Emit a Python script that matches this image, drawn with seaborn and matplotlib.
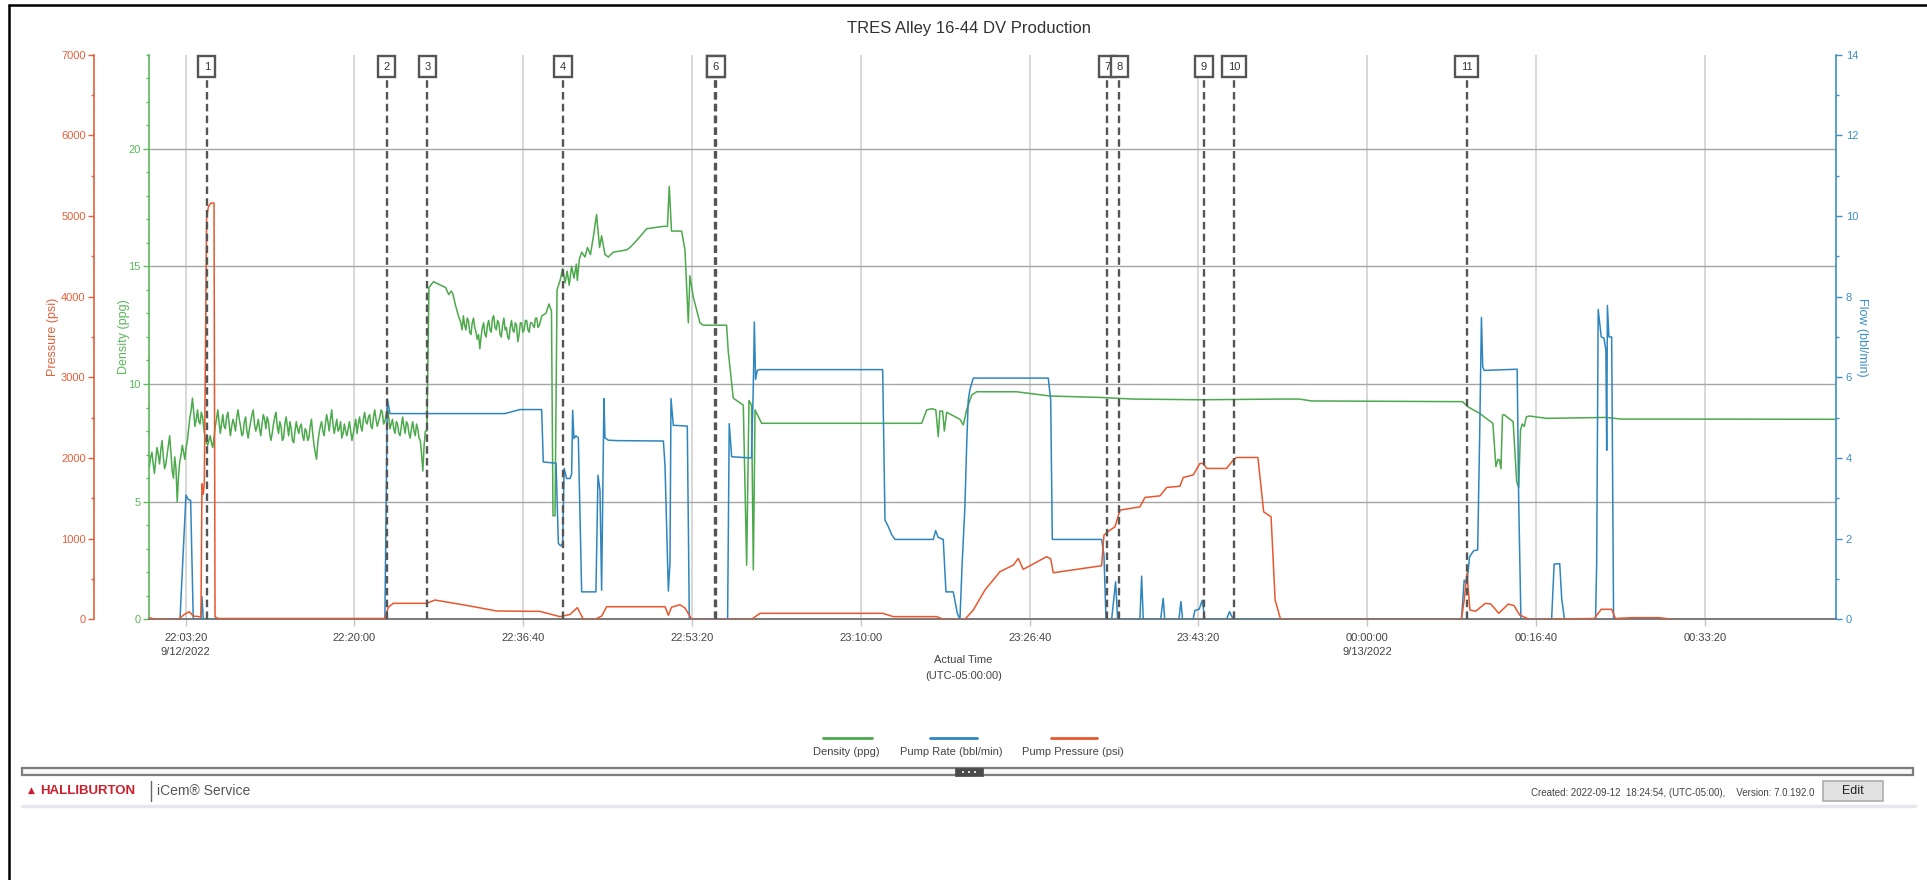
import numpy as np
import pandas as pd
import matplotlib
matplotlib.use("Agg")
import matplotlib.pyplot as plt
import matplotlib.dates as mdates
from matplotlib.lines import Line2D
from matplotlib.patches import Rectangle
from matplotlib.ticker import MultipleLocator
from matplotlib.transforms import blended_transform_factory
from matplotlib import font_manager
import seaborn as sns

sns.set_theme(style="white")
_installed = {f.name for f in font_manager.fontManager.ttflist}
BASE_FONT = "Liberation Sans Narrow" if "Liberation Sans Narrow" in _installed else "Liberation Sans"
plt.rcParams["font.family"] = [BASE_FONT, "DejaVu Sans"]

# ---------------------------------------------------------------- data
JOB_START = pd.Timestamp("2022-09-12 22:00:00")   # all times below in minutes after this
SAMPLE_STEP = 0.125                                # minutes between densitometer samples

# Density (ppg): logged stretch starting at -0.25 min
dens_a_start = -0.25
dens_a = [6.5, 6.9, 7.1, 6.6, 6.2, 6.8, 7.3, 7.0, 6.6, 7.2,
          7.6, 6.9, 6.4, 6.6, 7.0, 7.4, 7.8, 7.1, 6.3, 6.0,
          6.9, 6.4, 5.0, 6.1, 6.7, 7.0, 7.4, 7.1, 6.8, 7.3,
          7.6, 8.1, 8.6, 8.9, 9.4, 8.8, 8.2, 8.5, 8.9, 8.4,
          8.3, 8.8, 8.6, 8.1, 7.7, 7.5, 7.4, 7.6, 7.8, 7.5,
          7.3, 7.7, 8.2, 8.5, 8.9, 8.4, 7.9, 8.3, 8.7, 8.2,
          8.1, 8.6, 8.8, 8.3, 7.8, 8.2, 8.5, 8.3, 8.0, 8.6,
          8.9, 8.5, 8.2, 7.8, 7.9, 8.4, 8.6, 8.0, 7.7, 8.1,
          8.4, 8.7, 8.9, 8.3, 8.0, 8.2, 8.5, 8.1, 7.8, 8.3,
          8.7, 8.5, 8.1, 8.6, 8.4, 7.9, 7.6, 7.9, 8.3, 8.6,
          8.8, 8.2, 7.9, 8.4, 8.2, 7.6, 7.7, 8.3, 8.6, 8.2,
          7.8, 8.4, 8.1, 7.6, 7.5, 8.0, 8.4, 8.1, 7.9, 8.2,
          8.3, 7.8, 7.6, 8.1, 8.0, 7.6, 7.7, 8.2, 8.5, 7.9,
          7.4, 7.1, 6.8, 7.5, 7.9, 8.2, 8.4, 8.0, 7.8, 8.3,
          8.7, 8.4, 8.0, 8.5, 8.9, 8.3, 7.9, 8.2, 8.5, 8.0,
          8.1, 8.4, 7.7, 7.9, 8.3, 8.0, 7.8, 8.1, 8.4, 8.0,
          7.6, 7.9, 8.2, 8.5, 7.9, 8.3, 8.6, 8.2, 8.0, 8.5,
          8.8, 8.4, 8.3, 8.6, 8.7, 8.2, 8.1, 8.6, 8.9, 8.5,
          8.2, 8.4, 8.6, 8.9, 8.8, 8.3, 8.4, 8.7, 9.0, 8.6,
          8.1, 8.3, 8.5, 8.1, 7.9, 8.4, 8.3, 7.9, 7.8, 8.2,
          8.6, 8.2, 7.9, 8.4, 8.3, 7.9, 7.7, 8.1, 8.4, 8.0,
          7.8, 8.3, 8.1, 7.7, 7.6, 7.0, 6.3, 7.4, 8.0]
dens_mid = [(27.15, 8.0), (27.35, 14.1), (27.8, 14.35), (28.5, 14.2), (29.0, 14.1),
            (29.3, 13.8), (29.55, 13.95), (29.7, 13.85), (30.0, 13.3), (30.3, 12.85)]
dens_b_start = 30.5
dens_b = [12.6, 12.3, 12.9, 12.5, 12.3, 12.8, 12.7, 12.2, 12.1, 12.6,
          12.8, 12.4, 12.2, 11.9, 12.1, 11.5, 12.0, 12.4, 12.6, 12.1,
          12.0, 12.5, 12.7, 12.3, 12.2, 12.8, 12.9, 12.4, 12.3, 12.7,
          12.6, 12.1, 12.0, 12.5, 12.8, 12.3, 12.4, 12.0, 11.9, 12.4,
          12.7, 12.3, 12.2, 12.6, 12.5, 11.8, 12.1, 12.6, 12.6, 12.2,
          12.3, 12.7, 12.7, 12.3, 12.2, 12.6, 12.6, 12.5, 12.4, 12.8,
          12.8, 12.4, 12.5, 12.7, 12.9]
dens_tail = [(38.9, 13.0), (39.2, 13.4), (39.45, 13.1), (39.6, 4.4), (39.8, 4.4),
             (40.0, 14.0), (40.3, 14.4), (40.55, 14.9), (40.8, 14.3), (41.0, 14.8),
             (41.2, 14.2), (41.44, 15.0), (41.67, 14.5), (41.9, 15.1), (42.0, 14.4),
             (42.2, 15.3), (42.43, 15.6), (42.76, 15.4), (43.0, 15.8), (43.3, 15.5),
             (43.6, 16.3), (43.9, 17.2), (44.2, 15.8), (44.4, 16.3), (44.73, 15.5),
             (45.06, 15.4), (45.55, 15.6), (46.87, 15.7), (47.2, 15.8), (47.86, 16.1),
             (48.85, 16.6), (50.5, 16.7), (50.9, 16.7), (51.08, 18.4), (51.3, 16.5),
             (52.3, 16.5), (52.63, 15.7), (52.96, 12.6), (53.12, 14.6), (53.45, 13.7),
             (54.11, 12.6), (54.44, 12.5), (56.74, 12.5), (56.9, 11.4), (57.4, 9.4),
             (58.39, 9.1), (58.72, 2.3), (58.95, 9.3), (59.2, 9.1), (59.38, 2.1),
             (59.55, 8.9), (60.2, 8.33), (76.0, 8.33), (76.5, 8.9), (76.99, 8.95),
             (77.4, 8.9), (77.64, 7.76), (77.8, 8.85), (78.07, 8.85), (78.24, 8.0),
             (78.47, 8.8), (79.78, 8.5), (80.11, 8.26), (80.44, 8.9), (80.94, 9.53),
             (81.43, 9.67), (85.38, 9.67), (88.67, 9.49), (93.6, 9.43), (96.9, 9.36),
             (103.5, 9.33), (111.4, 9.36), (113.3, 9.36), (114.5, 9.28), (129.4, 9.25),
             (129.95, 9.03), (131.1, 8.75), (132.4, 8.33), (132.7, 6.49), (132.9, 6.8),
             (133.05, 6.77), (133.2, 6.4), (133.35, 8.68), (133.5, 8.7), (134.1, 8.5),
             (134.4, 8.4), (134.75, 5.85), (134.95, 5.6), (135.13, 8.04), (135.3, 8.3),
             (135.5, 8.2), (135.7, 8.6), (136.0, 8.64), (137.7, 8.54), (143.56, 8.58),
             (145.07, 8.51), (150.0, 8.51), (166.3, 8.5)]

# Pump rate (bbl/min)
flow_points = [(-0.3, 0), (2.77, 0), (3.36, 3.08), (3.59, 2.97), (3.82, 2.95), (4.08, 0),
               (4.84, 0), (4.94, 0.56), (5.07, 0), (23.0, 0), (23.24, 5.47), (23.5, 5.1),
               (34.86, 5.1), (36.34, 5.2), (38.48, 5.2), (38.64, 3.9), (39.9, 3.87),
               (40.13, 1.88), (40.36, 1.82), (40.55, 1.88), (40.7, 3.74), (40.95, 3.49),
               (41.28, 3.49), (41.44, 3.6), (41.54, 5.18), (41.67, 4.48), (41.86, 4.55),
               (42.1, 4.5), (42.43, 0.68), (43.84, 0.68), (44.04, 3.57), (44.24, 3.2),
               (44.4, 0.72), (44.63, 5.47), (44.73, 4.5), (45.06, 4.44), (45.88, 4.43),
               (50.5, 4.42), (50.66, 3.8), (50.99, 0.7), (51.15, 1.4), (51.25, 5.47),
               (51.48, 4.81), (52.86, 4.79), (53.06, 0), (56.84, 0), (57.0, 4.85),
               (57.24, 4.03), (59.2, 4.0), (59.38, 5.8), (59.48, 7.37), (59.6, 5.95),
               (59.77, 6.17), (60.0, 6.19), (72.15, 6.19), (72.38, 2.46), (72.7, 2.3),
               (73.04, 2.1), (73.37, 1.98), (77.15, 1.98), (77.38, 2.2), (77.64, 2.03),
               (78.13, 1.98), (78.4, 0.68), (79.12, 0.68), (79.52, 0.15), (79.78, 0),
               (80.0, 1.39), (80.27, 2.79), (80.44, 4.27), (80.6, 5.43), (80.77, 5.7),
               (81.1, 5.98), (88.5, 5.98), (88.74, 5.45), (88.9, 1.98), (93.77, 1.98),
               (94.0, 1.6), (94.2, 0), (94.76, 0), (95.15, 0.93), (95.35, 0), (97.55, 0),
               (97.72, 1.07), (97.88, 0), (99.6, 0), (99.85, 0.52), (100.0, 0), (101.4, 0),
               (101.6, 0.44), (101.76, 0), (102.8, 0), (102.98, 0.22), (103.4, 0.25),
               (103.7, 0.47), (103.97, 0), (106.1, 0), (106.4, 0.19), (106.76, 0),
               (129.3, 0), (129.57, 0.97), (129.84, 0.9), (130.1, 1.55), (130.5, 1.7),
               (130.9, 1.72), (131.1, 4.6), (131.2, 6.26), (131.27, 7.48), (131.4, 6.26),
               (131.54, 6.17), (134.8, 6.2), (134.95, 2.95), (135.17, 0), (138.2, 0),
               (138.45, 1.37), (139.0, 1.38), (139.2, 0.5), (139.47, 0), (142.54, 0),
               (142.65, 1.4), (142.8, 7.68), (143.1, 7.0), (143.37, 6.97), (143.56, 6.67),
               (143.64, 4.19), (143.71, 7.78), (143.86, 7.0), (144.13, 7.0), (144.32, 0),
               (150.5, 0)]

# Pump pressure (psi)
pres_points = [(-0.3, 20), (0.2, 5), (2.6, 0), (3.2, 60), (3.69, 94), (4.08, 40),
               (4.84, 30), (4.94, 1680), (5.07, 1550), (5.17, 1690), (5.4, 4985),
               (5.57, 5110), (5.8, 5159), (6.13, 5160), (6.23, 30), (6.55, 10),
               (23.0, 10), (23.34, 150), (23.83, 198), (27.13, 198), (27.95, 239),
               (31.4, 165), (34.04, 103), (38.3, 98), (40.29, 33), (41.28, 60),
               (42.0, 144), (42.6, 0), (43.75, 0), (44.4, 40), (44.9, 156), (50.66, 156),
               (50.99, 50), (51.3, 150), (52.14, 180), (52.63, 140), (53.3, 0), (59.2, 0),
               (60.04, 74), (72.15, 74), (73.2, 33), (77.48, 33), (78.13, 0), (80.27, 0),
               (81.1, 115), (82.25, 363), (83.73, 590), (85.05, 672), (85.54, 755),
               (86.03, 619), (88.34, 776), (88.74, 750), (89.0, 577), (93.77, 664),
               (94.0, 1044), (94.43, 1090), (95.09, 1147), (95.58, 1353), (97.55, 1394),
               (98.05, 1511), (99.53, 1530), (100.19, 1634), (101.5, 1650), (101.83, 1758),
               (102.82, 1790), (103.48, 1932), (103.8, 1932), (104.14, 1870), (106.1, 1870),
               (106.76, 1973), (107.1, 2006), (109.2, 2006), (109.77, 1332), (110.5, 1271),
               (110.9, 239), (111.44, 0), (129.3, 0), (129.57, 239), (129.84, 570),
               (130.14, 115), (130.7, 100), (131.66, 198), (132.2, 190), (132.98, 74),
               (133.92, 189), (134.48, 170), (135.05, 53), (136.0, 0), (142.42, 10),
               (143.1, 124), (144.13, 124), (144.5, 10), (146.2, 20), (148.85, 20),
               (150.0, 0), (150.5, 0)]

# Job events (minutes after 22:00:00)
event_t = [5.41, 23.18, 27.19, 40.59, 55.62, 55.69, 94.33, 95.51, 103.88, 106.84, 129.80]
event_lbl = ["1", "2", "3", "4", "5", "6", "7", "8", "9", "10", "11"]

X_MIN, X_MAX = -0.29, 166.28                     # visible window, minutes
TICK_FIRST_S, TICK_STEP_S, N_TICKS = 200, 1000, 10

TITLE = "TRES Alley 16-44 DV Production"
LEGEND = ["Density (ppg)", "Pump Rate (bbl/min)", "Pump Pressure (psi)"]

# ---------------------------------------------------------------- frames
def at(minutes):
    return JOB_START + pd.to_timedelta(np.asarray(minutes, dtype=float), unit="min")

dens_t = np.concatenate([
    dens_a_start + SAMPLE_STEP * np.arange(len(dens_a)),
    [p[0] for p in dens_mid],
    dens_b_start + SAMPLE_STEP * np.arange(len(dens_b)),
    [p[0] for p in dens_tail]])
dens_v = np.concatenate([dens_a, [p[1] for p in dens_mid], dens_b, [p[1] for p in dens_tail]])
df_dens = pd.DataFrame({"time": at(dens_t), "value": dens_v})
df_flow = pd.DataFrame({"time": at([p[0] for p in flow_points]), "value": [p[1] for p in flow_points]})
df_pres = pd.DataFrame({"time": at([p[0] for p in pres_points]), "value": [p[1] for p in pres_points]})

GREEN, GREEN_AX = "#4ca94c", "#5cb85c"
BLUE, BLUE_AX = "#2f86bf", "#3d8fc6"
ORANGE, ORANGE_AX = "#e8572d", "#e4603a"
TXT = "#444444"

W, H = 1927, 880
fig = plt.figure(figsize=(W / 100, H / 100), dpi=100)
fig.patch.set_facecolor("white")
ax = fig.add_axes([149 / W, 1 - 619.3 / H, 1687 / W, 564.7 / H])
ax_f = ax.twinx()
ax_p = ax.twinx()

line_kw = dict(x="time", y="value", estimator=None, sort=False, legend=False, linewidth=1.1)
sns.lineplot(data=df_dens, ax=ax, color=GREEN, **line_kw)
sns.lineplot(data=df_flow, ax=ax_f, color=BLUE, **line_kw)
sns.lineplot(data=df_pres, ax=ax_p, color=ORANGE, **line_kw)

ax.set_xlim(JOB_START + pd.Timedelta(minutes=X_MIN), JOB_START + pd.Timedelta(minutes=X_MAX))
ax.set_ylim(0, 24)
ax_f.set_ylim(0, 14)
ax_p.set_ylim(0, 7000)
ax.set_xlabel("")

# spines
for s in ("top", "right"):
    ax.spines[s].set_visible(False)
ax.spines["left"].set_color(GREEN_AX)
ax.spines["left"].set_linewidth(1.2)
ax.spines["bottom"].set_color("#7a7a7a")
ax.spines["bottom"].set_linewidth(1.4)
for a in (ax_f, ax_p):
    for s in a.spines.values():
        s.set_visible(False)
ax_f.spines["right"].set_visible(True)
ax_f.spines["right"].set_color(BLUE_AX)
ax_f.spines["right"].set_linewidth(1.2)
ax_p.spines["left"].set_visible(True)
ax_p.spines["left"].set_position(("axes", -55 / 1687))
ax_p.spines["left"].set_color(ORANGE_AX)
ax_p.spines["left"].set_linewidth(1.2)
ax_p.yaxis.set_ticks_position("left")
ax_p.yaxis.set_label_position("left")

# y ticks
ax.yaxis.set_major_locator(MultipleLocator(5))
ax.yaxis.set_minor_locator(MultipleLocator(1))
ax_p.yaxis.set_major_locator(MultipleLocator(1000))
ax_p.yaxis.set_minor_locator(MultipleLocator(500))
ax_f.yaxis.set_major_locator(MultipleLocator(2))
ax_f.yaxis.set_minor_locator(MultipleLocator(1))
ax.tick_params(axis="y", which="both", left=True, right=False, direction="out",
               colors=GREEN_AX, labelsize=8, width=1, pad=2)
ax.tick_params(axis="y", which="major", length=4)
ax.tick_params(axis="y", which="minor", length=2.5)
ax_p.tick_params(axis="y", which="both", left=True, right=False, labelleft=True, labelright=False,
                 direction="out", colors=ORANGE_AX, labelsize=8, width=1, pad=2)
ax_p.tick_params(axis="y", which="major", length=4)
ax_p.tick_params(axis="y", which="minor", length=2.5)
ax_f.tick_params(axis="y", which="both", right=True, left=False, labelright=True, labelleft=False,
                 direction="out", colors=BLUE_AX, labelsize=8, width=1, pad=3)
ax_f.tick_params(axis="y", which="major", length=4)
ax_f.tick_params(axis="y", which="minor", length=2.5)

# x ticks: one every 16:40, date shown when the day changes
tick_times = [JOB_START + pd.Timedelta(seconds=TICK_FIRST_S + k * TICK_STEP_S) for k in range(N_TICKS)]
tick_labels, prev_day = [], None
for t in tick_times:
    s = t.strftime("%H:%M:%S")
    if t.date() != prev_day:
        s += f"\n{t.month}/{t.day}/{t.year}"
        prev_day = t.date()
    tick_labels.append(s)
ax.set_xticks(tick_times)
ax.set_xticklabels(tick_labels)
ax.tick_params(axis="x", bottom=True, direction="out", length=5, width=1, color="#c4c4c4",
               labelsize=8, labelcolor=TXT, pad=5)
for lab in ax.get_xticklabels():
    lab.set_linespacing(1.45)

# grid
ax.grid(False)
ax.yaxis.grid(True, which="major", color="#a5a5a5", linewidth=1.0)
ax.xaxis.grid(True, which="major", color="#d5d5d5", linewidth=1.3)
ax.set_axisbelow(True)

# axis titles
ax.set_ylabel("Density (ppg)", color=GREEN_AX, fontsize=9)
ax.yaxis.set_label_coords(-0.0113, 0.5)
ax_p.set_ylabel("Pressure (psi)", color=ORANGE_AX, fontsize=9)
ax_p.yaxis.set_label_coords(-0.0533, 0.5)
ax_f.set_ylabel("Flow (bbl/min)", color=BLUE_AX, fontsize=9, rotation=270, va="bottom")
ax_f.yaxis.set_label_coords(1.0119, 0.5)

# event markers
trans = blended_transform_factory(ax_p.transData, ax_p.transAxes)
for t, lbl in zip(event_t, event_lbl):
    xn = mdates.date2num((JOB_START + pd.Timedelta(minutes=t)).to_pydatetime())
    ax_p.axvline(xn, ymin=0, ymax=0.9603, color="#555555", lw=1.7,
                 ls=(0, (3.2, 1.8)), zorder=5)
    ax_p.text(xn, 0.9785, lbl, transform=trans, ha="center", va="center", fontsize=8,
              color="#333333", zorder=6,
              bbox=dict(boxstyle="square,pad=0.5", fc="white", ec="#555555", lw=1.7))

# titles around the plot
fig.text(969 / W, 1 - 29 / H, TITLE, ha="center", va="center", fontsize=12, color="#333333")
fig.text(0.5, 1 - 660 / H, "Actual Time", ha="center", va="center", fontsize=8, color=TXT)
fig.text(0.5, 1 - 676 / H, "(UTC-05:00:00)", ha="center", va="center", fontsize=8, color=TXT)

# legend
legend_layout = [(GREEN, 823, 872, 846), (BLUE, 930, 977, 951), (ORANGE, 1051, 1097, 1073)]
for name, (color, x0, x1, xc) in zip(LEGEND, legend_layout):
    fig.add_artist(Line2D([x0 / W, x1 / W], [1 - 737.7 / H] * 2, color=color, lw=2.0))
    fig.text(xc / W, 1 - 751.7 / H, name, ha="center", va="center", fontsize=8, color=TXT)

# splitter bar
fig.add_artist(Rectangle((22 / W, 1 - 775 / H), (1913 - 22) / W, 6.7 / H,
                         transform=fig.transFigure, fc="#f7f7f7", ec="#7c7c7c", lw=1.6))
fig.add_artist(Rectangle((955 / W, 1 - 775.5 / H), 28 / W, 7.5 / H,
                         transform=fig.transFigure, fc="#4a4a4a", ec="#4a4a4a", lw=0.5))
for dx in (962, 968, 974):
    fig.add_artist(Rectangle((dx / W, 1 - 773 / H), 2 / W, 2.5 / H,
                             transform=fig.transFigure, fc="#dddddd", ec="none"))

# footer
fig.text(31 / W, 1 - 790.5 / H, "\u25b2", ha="center", va="center", fontsize=6.5,
         color="#cc1f2d", family=["DejaVu Sans"])
fig.text(40 / W, 1 - 790.7 / H, "HALLIBURTON", ha="left", va="center", fontsize=9.5,
         fontweight="bold", color="#cc1f2d")
fig.add_artist(Line2D([151 / W] * 2, [1 - 781 / H, 1 - 801 / H], color="#666666", lw=1.0))
fig.text(157 / W, 1 - 790.7 / H, "iCem\u00ae Service", ha="left", va="center", fontsize=10,
         color="#555555")
fig.text(1814 / W, 1 - 793 / H,
         "Created: 2022-09-12  18:24:54, (UTC-05:00),    Version: 7.0.192.0",
         ha="right", va="center", fontsize=7, color=TXT)
fig.add_artist(Rectangle((1823 / W, 1 - 801 / H), 60 / W, 20 / H, transform=fig.transFigure,
                         fc="#e1e1e1", ec="#adadad", lw=1.2))
fig.text(1853 / W, 1 - 791 / H, "Edit", ha="center", va="center", fontsize=9, color="#222222")
fig.add_artist(Line2D([22 / W, 1915 / W], [1 - 806 / H] * 2, color="#e6e6ee", lw=2.5))

# outer frame
fig.add_artist(Line2D([9 / W, 1], [1 - 5 / H] * 2, color="black", lw=1.8))
fig.add_artist(Line2D([9 / W] * 2, [0, 1 - 5 / H], color="black", lw=1.8))

fig.savefig("out.png", dpi=100)
